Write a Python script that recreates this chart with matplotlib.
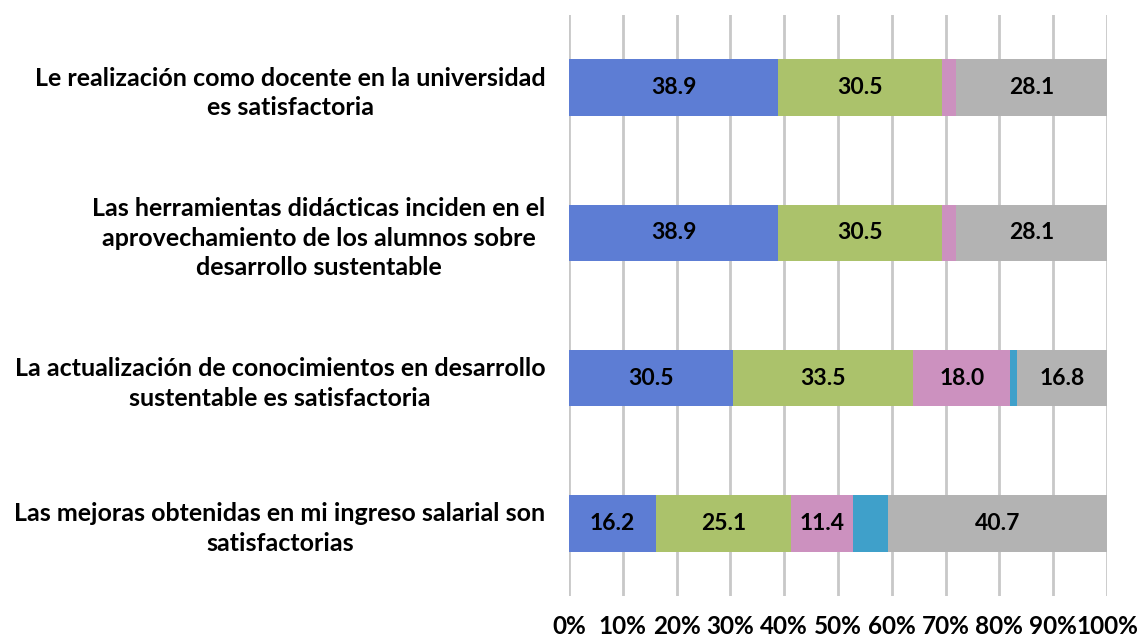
import matplotlib.pyplot as plt
import numpy as np

categorias = [
    "Le realización como docente en la universidad\nes satisfactoria",
    "Las herramientas didácticas inciden en el\naprovechamiento de los alumnos sobre\ndesarrollo sustentable",
    "La actualización de conocimientos en desarrollo\nsustentable es satisfactoria",
    "Las mejoras obtenidas en mi ingreso salarial son\nsatisfactorias",
]

serie_1 = [38.9, 38.9, 30.5, 16.2]
serie_2 = [30.5, 30.5, 33.5, 25.1]
serie_3 = [2.5, 2.5, 18.0, 11.4]
serie_4 = [0.0, 0.0, 1.2, 6.6]
serie_5 = [28.1, 28.1, 16.8, 40.7]

series = [serie_1, serie_2, serie_3, serie_4, serie_5]
colores = ["#5d7dd4", "#abc26b", "#cc91bf", "#3fa0ca", "#b3b3b3"]
con_etiqueta = [True, True, True, False, True]

plt.rcParams['font.family'] = ['Lato', 'DejaVu Sans']
plt.rcParams['font.weight'] = 'bold'

fig = plt.figure(figsize=(11.42, 6.43), dpi=100)
ax = fig.add_axes([569 / 1142, 47 / 643, 538 / 1142, 581 / 643])

y = np.arange(len(categorias))
izq = np.zeros(len(categorias))
for vals, col, etiq in zip(series, colores, con_etiqueta):
    vals = np.array(vals)
    ax.barh(y, vals, left=izq, height=0.39, color=col, zorder=3)
    if etiq:
        for yi, (l, v) in enumerate(zip(izq, vals)):
            if v >= 5:
                ax.text(l + v / 2, yi, f"{v:.1f}", ha='center', va='center',
                        fontsize=16.5, fontweight='bold', color='black', zorder=4)
    izq = izq + vals

ax.set_xlim(0, 100)
ax.set_ylim(len(categorias) - 0.5, -0.5)
ax.set_xticks(np.arange(0, 101, 10))
ax.set_xticklabels([f"{t}%" for t in range(0, 101, 10)], fontsize=17.5, fontweight='bold')
ax.set_yticks(y)
ax.set_yticklabels(categorias, fontsize=18, fontweight='bold')
for lab in ax.get_yticklabels():
    lab.set_multialignment('center')
    lab.set_linespacing(1.35)
ax.tick_params(axis='x', length=0, pad=14)
ax.tick_params(axis='y', length=0, pad=17)
ax.grid(axis='x', color='#c8c8c8', linewidth=2, zorder=0)
for s in ax.spines.values():
    s.set_visible(False)

fig.savefig("out.png", dpi=100)
